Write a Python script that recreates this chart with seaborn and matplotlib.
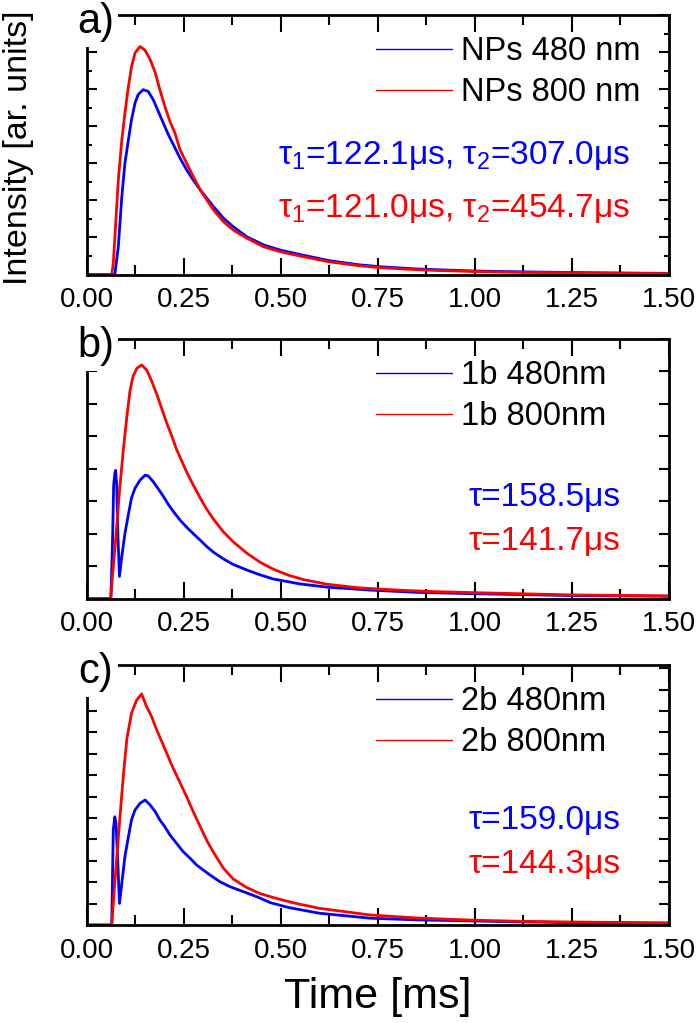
import numpy as np
import pandas as pd
import matplotlib
matplotlib.use("Agg")
import matplotlib.pyplot as plt
import seaborn as sns
from matplotlib import font_manager
from matplotlib.patches import Rectangle
from matplotlib.ticker import MultipleLocator, FormatStrFormatter

# ================== DATA ==================
# a) NPs
t_a_blue = [0.0, 0.073, 0.082, 0.091, 0.099, 0.108, 0.116, 0.125, 0.133, 0.146, 0.159, 0.172, 0.185, 0.198,
            0.211, 0.224, 0.241, 0.258, 0.275, 0.293, 0.310, 0.327, 0.353, 0.378, 0.413, 0.456, 0.499, 0.55,
            0.627, 0.70, 0.756, 0.85, 0.90, 1.0, 1.07, 1.2, 1.33, 1.5]
i_a_blue = [0, 0, 1.5, 4.2, 6.0, 7.27, 8.35, 9.25, 9.7, 9.97, 9.88, 9.43, 8.8, 8.17,
            7.54, 7.0, 6.28, 5.65, 5.1, 4.57, 4.12, 3.67, 3.04, 2.58, 2.04, 1.6, 1.32, 1.08,
            0.74, 0.53, 0.42, 0.3, 0.26, 0.19, 0.16, 0.12, 0.09, 0.06]
t_a_red = [0.0, 0.065, 0.069, 0.082, 0.091, 0.099, 0.108, 0.116, 0.125, 0.138, 0.151, 0.164, 0.177, 0.189,
           0.202, 0.215, 0.228, 0.241, 0.258, 0.275, 0.293, 0.310, 0.327, 0.353, 0.378, 0.413, 0.456, 0.499,
           0.55, 0.627, 0.70, 0.756, 0.85, 0.90, 1.0, 1.07, 1.2, 1.33, 1.5]
i_a_red = [0, 0, 0.6, 5.1, 7.27, 8.7, 10.15, 11.2, 11.96, 12.3, 12.1, 11.6, 10.9, 9.97,
           9.07, 8.26, 7.63, 6.73, 6.01, 5.29, 4.57, 4.03, 3.49, 2.85, 2.4, 1.96, 1.5, 1.23,
           1.0, 0.68, 0.48, 0.37, 0.26, 0.22, 0.16, 0.13, 0.1, 0.07, 0.05]

# b) 1b
t_b_blue = [0.0, 0.063, 0.0675, 0.070, 0.073, 0.075, 0.078, 0.081, 0.085, 0.091, 0.099, 0.108, 0.116, 0.125,
            0.138, 0.151, 0.159, 0.172, 0.185, 0.198, 0.211, 0.224, 0.241, 0.258, 0.275, 0.293, 0.310, 0.327,
            0.353, 0.378, 0.413, 0.447, 0.482, 0.55, 0.62, 0.73, 0.85, 0.99, 1.25, 1.5]
i_b_blue = [0, 0, 2.0, 3.5, 3.85, 3.95, 3.5, 1.9, 0.68, 1.3, 2.0, 2.6, 3.1, 3.4,
            3.65, 3.8, 3.78, 3.6, 3.38, 3.15, 2.9, 2.68, 2.42, 2.2, 2.0, 1.8, 1.6, 1.43,
            1.22, 1.05, 0.88, 0.73, 0.6, 0.45, 0.35, 0.26, 0.19, 0.15, 0.09, 0.07]
t_b_red = [0.0, 0.062, 0.075, 0.085, 0.095, 0.104, 0.112, 0.12, 0.13, 0.142, 0.155, 0.168, 0.181, 0.194,
           0.207, 0.22, 0.232, 0.245, 0.258, 0.275, 0.293, 0.31, 0.327, 0.353, 0.378, 0.413, 0.447, 0.482,
           0.52, 0.56, 0.62, 0.7, 0.8, 0.9, 1.0, 1.25, 1.5]
i_b_red = [0, 0, 1.8, 3.3, 4.6, 5.6, 6.4, 6.85, 7.1, 7.2, 7.05, 6.7, 6.3, 5.85,
           5.4, 5.0, 4.6, 4.25, 3.9, 3.5, 3.1, 2.75, 2.45, 2.05, 1.75, 1.4, 1.12, 0.9,
           0.72, 0.58, 0.44, 0.33, 0.26, 0.21, 0.18, 0.11, 0.08]

# c) 2b
t_c_blue = [0.0, 0.065, 0.069, 0.073, 0.076, 0.080, 0.085, 0.091, 0.099, 0.108, 0.116, 0.125, 0.138, 0.151,
            0.164, 0.177, 0.189, 0.202, 0.215, 0.232, 0.249, 0.267, 0.284, 0.301, 0.318, 0.344, 0.370, 0.404,
            0.439, 0.473, 0.52, 0.6, 0.73, 0.85, 0.99, 1.1, 1.25, 1.5]
i_c_blue = [0, 0, 4.44, 5.06, 4.75, 3.19, 1.01, 1.95, 3.19, 4.13, 4.91, 5.37, 5.69, 5.84,
            5.61, 5.3, 4.91, 4.59, 4.21, 3.82, 3.43, 3.12, 2.8, 2.57, 2.34, 2.02, 1.79, 1.56,
            1.32, 1.05, 0.82, 0.55, 0.32, 0.24, 0.19, 0.15, 0.11, 0.08]
t_c_red = [0.0, 0.065, 0.073, 0.086, 0.095, 0.104, 0.116, 0.129, 0.142, 0.155, 0.168, 0.181, 0.194, 0.207,
           0.219, 0.232, 0.245, 0.258, 0.275, 0.293, 0.310, 0.327, 0.353, 0.378, 0.413, 0.447, 0.482, 0.53,
           0.6, 0.73, 0.85, 0.99, 1.1, 1.25, 1.5]
i_c_red = [0, 0, 2.0, 5.0, 7.0, 8.7, 9.9, 10.5, 10.8, 10.2, 9.73, 9.11, 8.57, 8.02,
           7.5, 7.0, 6.5, 6.0, 5.3, 4.6, 3.95, 3.4, 2.65, 2.15, 1.75, 1.47, 1.28, 1.05,
           0.78, 0.47, 0.33, 0.23, 0.18, 0.14, 0.1]

legend_a = ["NPs 480 nm", "NPs 800 nm"]
legend_b = ["1b 480nm", "1b 800nm"]
legend_c = ["2b 480nm", "2b 800nm"]
tau_a = [r"τ$_{\mathrm{1}}$=122.1μs, τ$_{\mathrm{2}}$=307.0μs", r"τ$_{\mathrm{1}}$=121.0μs, τ$_{\mathrm{2}}$=454.7μs"]
tau_b = ["τ=158.5μs", "τ=141.7μs"]
tau_c = ["τ=159.0μs", "τ=144.3μs"]
panel_tags = ["a)", "b)", "c)"]

# ================== CONFIG ==================
sns.set_style("ticks")
plt.rcParams["font.family"] = ["Liberation Sans", "DejaVu Sans"]
plt.rcParams["mathtext.fontset"] = "custom"
plt.rcParams["mathtext.rm"] = "Liberation Sans"
plt.rcParams["mathtext.it"] = "Liberation Sans"
for key in ["text.color", "axes.edgecolor", "xtick.color", "ytick.color", "axes.labelcolor"]:
    plt.rcParams[key] = "black"

names = {f.name for f in font_manager.fontManager.ttflist}
tick_font = "Liberation Sans Narrow" if "Liberation Sans Narrow" in names else "Liberation Sans"

BLUE, RED = "#0000ff", "#ff0000"
TXT = 24
W, H = 700, 1023
fig = plt.figure(figsize=(W / 100, H / 100), dpi=100)

def add_ax(left, top, right, bottom):
    return fig.add_axes([left / W, 1 - bottom / H, (right - left) / W, (bottom - top) / H])

panels = [
    dict(box=(86.5, 15, 668.5, 274.5), blue=(t_a_blue, i_a_blue), red=(t_a_red, i_a_red), ymax=14.0,
         ymaj=2, ymin=1, leg=legend_a, tau=tau_a, taux=0.934, tauy=(0.457, 0.256)),
    dict(box=(86.5, 339, 668.5, 598.5), blue=(t_b_blue, i_b_blue), red=(t_b_red, i_b_red), ymax=8.0,
         ymaj=1, ymin=1, leg=legend_b, tau=tau_b, taux=0.917, tauy=(0.391, 0.218)),
    dict(box=(86.5, 665, 668.5, 925), blue=(t_c_blue, i_c_blue), red=(t_c_red, i_c_red), ymax=12.15,
         ymaj=1, ymin=1, leg=legend_c, tau=tau_c, taux=0.917, tauy=(0.403, 0.234)),
]

for k, p in enumerate(panels):
    ax = add_ax(*p["box"])
    df_b = pd.DataFrame({"t": p["blue"][0], "I": p["blue"][1]})
    df_r = pd.DataFrame({"t": p["red"][0], "I": p["red"][1]})
    sns.lineplot(data=df_b, x="t", y="I", color=BLUE, lw=2.0, ax=ax, label=p["leg"][0], estimator=None, sort=False)
    sns.lineplot(data=df_r, x="t", y="I", color=RED, lw=2.0, ax=ax, label=p["leg"][1], estimator=None, sort=False)

    ax.set_xlim(0, 1.5)
    ax.set_ylim(0, p["ymax"])
    ax.set_xlabel("")
    ax.set_ylabel("")
    ax.xaxis.set_major_locator(MultipleLocator(0.25))
    ax.xaxis.set_minor_locator(MultipleLocator(0.125))
    ax.xaxis.set_major_formatter(FormatStrFormatter("%.2f"))
    ax.yaxis.set_major_locator(MultipleLocator(p["ymaj"]))
    ax.yaxis.set_minor_locator(MultipleLocator(p["ymin"]))
    ax.tick_params(which="both", direction="in", top=True, right=True, width=1.5, labelleft=False)
    ax.tick_params(axis="x", which="major", length=12, labelsize=20, labelfontfamily=tick_font, pad=9)
    ax.tick_params(axis="x", which="minor", length=7)
    ax.tick_params(axis="y", which="major", length=7)
    ax.tick_params(axis="y", which="minor", length=3.5)
    for s in ax.spines.values():
        s.set_linewidth(2)
        s.set_visible(True)
        s.set_color("black")

    leg = ax.legend(loc="upper left", bbox_to_anchor=(0.497, 0.918), frameon=False, fontsize=23.5,
                    handlelength=2.35, handletextpad=0.25, labelspacing=0.3, borderpad=0, borderaxespad=0)
    for ln in leg.get_lines():
        ln.set_linewidth(1.0)

    ax.text(p["taux"], p["tauy"][0], p["tau"][0], transform=ax.transAxes, ha="right", va="center",
            color=BLUE, fontsize=TXT)
    ax.text(p["taux"], p["tauy"][1], p["tau"][1], transform=ax.transAxes, ha="right", va="center",
            color=RED, fontsize=TXT)

    # white patch over the top-left corner with the panel tag
    left, top = p["box"][0], p["box"][1]
    fig.patches.append(Rectangle(((left - 26) / W, 1 - (top + 32) / H), 58 / W, 50 / H,
                                 transform=fig.transFigure, facecolor="white", edgecolor="none", zorder=5))
    fig.text((left + 9) / W, 1 - (top + 7) / H, panel_tags[k], ha="center", va="center",
             fontsize=30, zorder=6)

fig.text(19 / W, 1 - 148 / H, "Intensity [ar. units]", rotation=90, ha="center", va="center", fontsize=24.5)
fig.text(378 / W, 1 - 997 / H, "Time [ms]", ha="center", va="center", fontsize=31)

fig.savefig("out.png", dpi=100)
